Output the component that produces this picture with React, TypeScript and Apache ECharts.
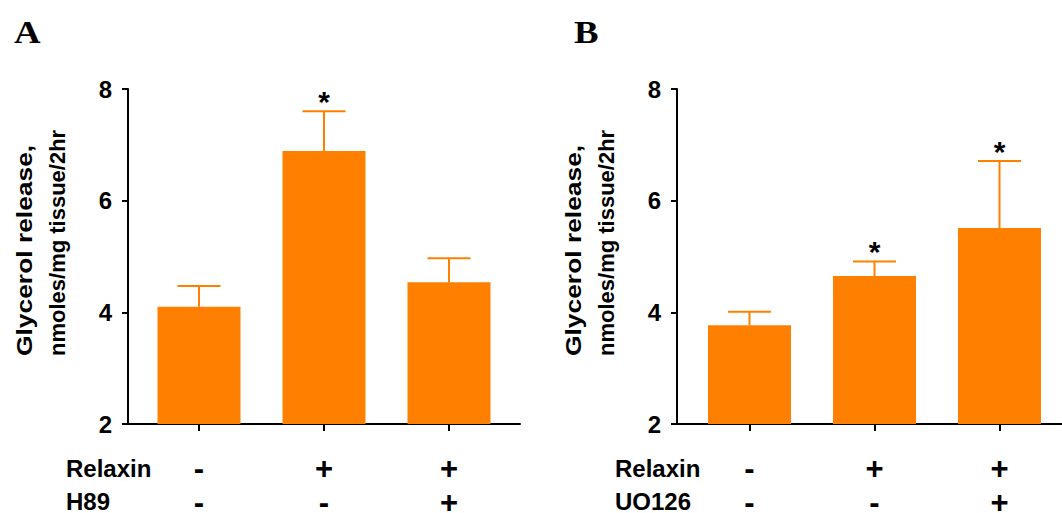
import React, { useEffect, useRef } from "react";
import * as echarts from "echarts";

const positions = [0, 1, 2];
const meansA = [4.1, 6.89, 4.54];
const upperA = [4.47, 7.6, 4.97];
const starsA = [0, 1, 0];
const meansB = [3.77, 4.65, 5.51];
const upperB = [4.01, 4.91, 6.71];
const starsB = [0, 1, 1];
const relaxinSigns = ["-", "+", "+"];
const h89Signs = ["-", "-", "+"];
const uo126Signs = ["-", "-", "+"];
const yTicks = { min: 2, max: 8, interval: 2 };
const yTitle1 = "Glycerol release,";
const yTitle2 = "nmoles/mg tissue/2hr";

const ORANGE = "#FF8000";
const FONT = "Liberation Sans, Arial, sans-serif";

function errRender(params: any, api: any) {
  const x = api.value(0);
  const m = api.value(1);
  const u = api.value(2);
  const s = api.value(3);
  const pBar = api.coord([x, m]);
  const pUp = api.coord([x, u]);
  const half = 21.5;
  const children: any[] = [
    { type: "line", shape: { x1: pBar[0], y1: pBar[1], x2: pUp[0], y2: pUp[1] }, style: { stroke: ORANGE, lineWidth: 2 } },
    { type: "line", shape: { x1: pUp[0] - half, y1: pUp[1], x2: pUp[0] + half, y2: pUp[1] }, style: { stroke: ORANGE, lineWidth: 2 } },
  ];
  if (s) {
    children.push({
      type: "text",
      x: pUp[0],
      y: pUp[1] - 10,
      style: { text: "*", font: `bold 30px ${FONT}`, fill: "#000", textAlign: "center", textVerticalAlign: "middle", align: "center", verticalAlign: "middle" },
    });
  }
  return { type: "group", children };
}

export default function App() {
  const ref = useRef<HTMLDivElement>(null);
  useEffect(() => {
    document.body.style.margin = "0";
    const chart = echarts.init(ref.current!, null, { renderer: "svg" });
    const mkX = (idx: number, min: number, max: number, signs2: string[]) => ({
      type: "value",
      gridIndex: idx,
      min,
      max,
      splitLine: { show: false },
      axisLine: { show: true, onZero: false, lineStyle: { color: "#000", width: 2 } },
      axisTick: { show: true, length: 7, lineStyle: { color: "#000", width: 2 }, customValues: positions },
      axisLabel: {
        show: true,
        customValues: positions,
        margin: 27,
        formatter: (v: number) => `${relaxinSigns[Math.round(v)]}\n${signs2[Math.round(v)]}`,
        fontFamily: FONT,
        fontWeight: "bold",
        fontSize: 31,
        lineHeight: 34,
        color: "#000",
        verticalAlign: "top",
      },
    });
    const mkY = (idx: number) => ({
      type: "value",
      gridIndex: idx,
      min: yTicks.min,
      max: yTicks.max,
      interval: yTicks.interval,
      splitLine: { show: false },
      axisLine: { show: true, onZero: false, lineStyle: { color: "#000", width: 2 } },
      axisTick: { show: true, length: 6, lineStyle: { color: "#000", width: 2 } },
      axisLabel: { fontFamily: FONT, fontWeight: "bold", fontSize: 24, color: "#000", margin: 16 },
    });
    const titleLine = (text: string, x: number, sx: number) => ({
      type: "text",
      x,
      y: 356,
      rotation: Math.PI / 2,
      scaleX: sx,
      style: {
        text,
        font: `bold 22px ${FONT}`,
        fill: "#000",
        textAlign: "left",
        textVerticalAlign: "middle",
        align: "left",
        verticalAlign: "middle",
      },
    });
    const rowLabel = (text: string, left: number, cy: number) => ({
      type: "text",
      x: left,
      y: cy,
      style: { text, font: `bold 24px ${FONT}`, fill: "#000", textVerticalAlign: "middle", verticalAlign: "middle" },
    });
    const letter = (text: string, x: number) => ({
      type: "text",
      x,
      y: 16,
      scaleX: 1.15,
      style: { text, font: "bold 32px 'Liberation Serif', 'Times New Roman', serif", fill: "#000" },
    });
    chart.setOption({
      animation: false,
      backgroundColor: "#fff",
      grid: [
        { left: 128, top: 89, width: 392, height: 335, outerBoundsMode: "none", containLabel: false },
        { left: 677, top: 89, width: 385, height: 335, outerBoundsMode: "none", containLabel: false },
      ],
      xAxis: [mkX(0, -0.568, 2.568, h89Signs), mkX(1, -0.58, 2.5, uo126Signs)],
      yAxis: [mkY(0), mkY(1)],
      series: [
        { type: "bar", xAxisIndex: 0, yAxisIndex: 0, barWidth: 83, itemStyle: { color: ORANGE }, data: positions.map((p, i) => [p, meansA[i]]) },
        { type: "bar", xAxisIndex: 1, yAxisIndex: 1, barWidth: 83, itemStyle: { color: ORANGE }, data: positions.map((p, i) => [p, meansB[i]]) },
        { type: "custom", xAxisIndex: 0, yAxisIndex: 0, renderItem: errRender, clip: false, data: positions.map((p, i) => [p, meansA[i], upperA[i], starsA[i]]) },
        { type: "custom", xAxisIndex: 1, yAxisIndex: 1, renderItem: errRender, clip: false, data: positions.map((p, i) => [p, meansB[i], upperB[i], starsB[i]]) },
      ],
      graphic: [
        letter("A", 14),
        letter("B", 574),
        titleLine(yTitle1, 24, 1.2),
        titleLine(yTitle2, 57, 1.0),
        titleLine(yTitle1, 573, 1.2),
        titleLine(yTitle2, 606, 1.0),
        rowLabel("Relaxin", 66, 468),
        rowLabel("H89", 66, 501),
        rowLabel("Relaxin", 615, 468),
        rowLabel("UO126", 615, 501),
      ],
    });
    return () => chart.dispose();
  }, []);
  return <div ref={ref} style={{ width: 1062, height: 513 }} />;
}
